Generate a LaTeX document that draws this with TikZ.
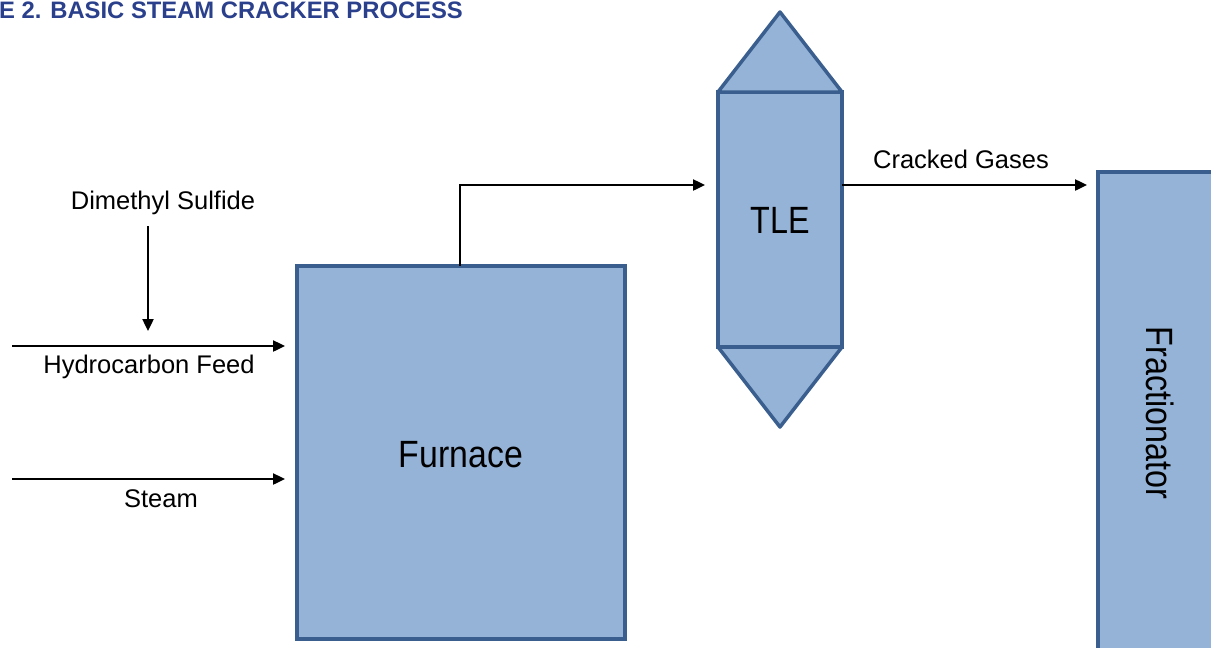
\documentclass[tikz,border=0pt]{standalone}
\usepackage{fontspec}
\setmainfont{Liberation Sans}
\usetikzlibrary{arrows.meta}
\definecolor{boxfill}{HTML}{95B3D7}
\definecolor{boxline}{HTML}{3A5F8E}
\definecolor{titleblue}{HTML}{2B408C}
\begin{document}
\begin{tikzpicture}[x=1pt,y=-1pt,
  unit/.style={draw=boxline, fill=boxfill, line width=3.5pt, inner sep=0pt, outer sep=0pt},
  lbl/.style={font=\fontsize{25.5}{28}\selectfont, anchor=base, inner sep=0pt},
  big/.style={font=\fontsize{38}{40}\selectfont, inner sep=0pt},
  flow/.style={line width=2.4pt, -{Triangle[length=12pt,width=11pt]}},
]
\clip (0,0) rectangle (1211,648);
\fill[white] (0,0) rectangle (1211,648);
% title
\node[anchor=base west, text=titleblue, font=\bfseries\fontsize{23.8}{26}\selectfont, inner sep=0pt] (title) at (-1,18) {E 2. BASIC STEAM CRACKER PROCESS};
% units
\node[unit, minimum width=328pt, minimum height=373pt] (furnace) at (461,452.5) {};
\node[big, anchor=base] (furnacelbl) at (461,467) {\scalebox{0.89}[1]{Furnace}};
\coordinate (tletop) at (780,12);
\coordinate (tlebot) at (780,427);
\node[unit, minimum width=124pt, minimum height=255pt] (tle) at (780,219.5) {};
\filldraw[draw=boxline, fill=boxfill, line width=3.5pt, line join=round] (tle.north west) -- (tletop) -- (tle.north east) -- cycle;
\filldraw[draw=boxline, fill=boxfill, line width=3.5pt, line join=round] (tle.south west) -- (tlebot) -- (tle.south east) -- cycle;
\node[big, anchor=base] (tlelbl) at (780,233) {\scalebox{0.85}[1]{TLE}};
\node[unit, minimum width=140pt, minimum height=520pt] (frac) at (1168,432) {};
\node[big, rotate=-90] (fraclbl) at (1160,413) {\scalebox{0.85}[1]{Fractionator}};
% labels
\node[lbl] (dms) at (163,209) {Dimethyl Sulfide};
\node[lbl] (hclbl) at (149,373) {Hydrocarbon Feed};
\node[lbl] (steamlbl) at (161,507) {Steam};
\node[lbl] (cglbl) at (961,168) {Cracked Gases};
% coordinates
\coordinate (dmsend) at (148,331);
\coordinate (hcin) at (12,346);
\coordinate (stin) at (12,479);
\coordinate (bend) at (460,185);
% connectors
\draw[flow, shorten <=12pt] (dmsend |- dms.south) -- (dmsend);
\draw[flow, shorten >=12pt] (hcin) -- (hcin -| furnace.west);
\draw[flow, shorten >=12pt] (stin) -- (stin -| furnace.west);
\draw[flow, shorten >=13pt] (bend |- furnace.north) -- (bend) -- (bend -| tle.west);
\draw[flow, shorten >=11pt] (tle.east |- bend) -- (frac.west |- bend);
\end{tikzpicture}
\end{document}
